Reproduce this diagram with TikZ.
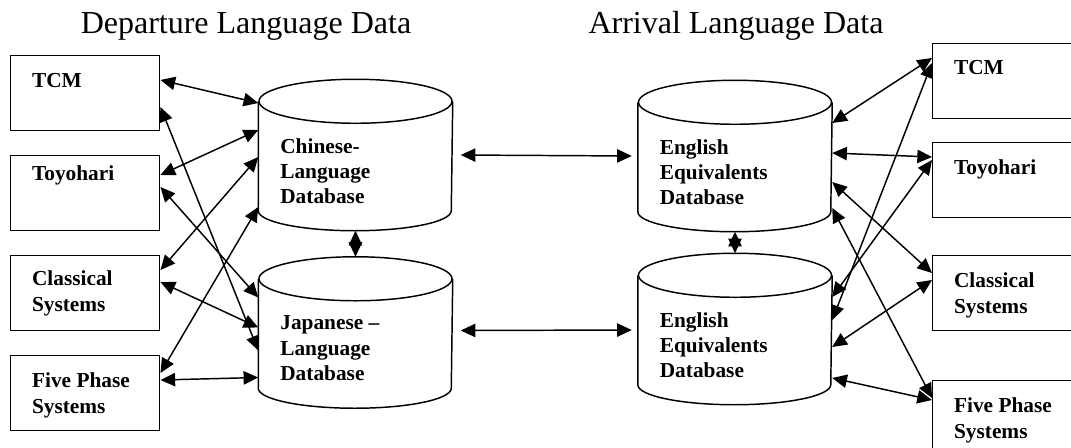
\documentclass[tikz,border=0pt]{standalone}
\usepackage{fontspec}
\setmainfont{Liberation Serif}
\usetikzlibrary{arrows.meta,calc}

\begin{document}
\begin{tikzpicture}[x=0.75pt,y=-0.75pt,line width=1.1pt,label distance=0pt,
	>={Triangle[length=11pt,width=10pt]},
	sysbox/.style={draw,rectangle,minimum width=111.75pt,minimum height=56.25pt,anchor=north west,inner sep=0pt},
	boxtext/.style={anchor=north west,inner sep=0pt,align=left,font=\fontsize{16}{19.5}\selectfont\bfseries,xshift=16pt,yshift=-12.5pt},
	db/.style={rectangle,minimum width=144.75pt,minimum height=112.5pt,inner sep=0pt},
	dbtext/.style={anchor=north west,inner sep=0pt,align=left,font=\fontsize{16}{19}\selectfont\bfseries,xshift=16pt,yshift=13pt},
	title/.style={anchor=base,font=\fontsize{24}{28}\selectfont}]
	\useasboundingbox (0,0) rectangle (1071,447);
	% titles
	\node[title] (dep) at (246,33) {Departure Language Data};
	\node[title] (arr) at (736,33) {Arrival Language Data};
	% departure side
	\node[sysbox,label={[boxtext,yshift=-1pt]north west:TCM}] (tcmL) at (10,55) {};
	\node[sysbox,label={[boxtext,yshift=5pt]north west:Toyohari}] (toyL) at (10,155) {};
	\node[sysbox,label={[boxtext,yshift=1pt]north west:Classical\\Systems}] (claL) at (10,255) {};
	\node[sysbox,label={[boxtext]north west:Five Phase\\Systems}] (fivL) at (10,355) {};
	\node[db,label={[dbtext]west:Chinese-\\Language\\Database}] (chn) at (355.5,155) {};
	\node[db,label={[dbtext]west:Japanese --\\Language\\Database}] (jap) at (355.5,332.5) {};
	% arrival side
	\node[db,label={[dbtext]west:English\\Equivalents\\Database}] (en1) at (735,156) {};
	\node[db,label={[dbtext]west:English\\Equivalents\\Database}] (en2) at (735,329) {};
	\node[sysbox,label={[boxtext]north west:TCM}] (tcmR) at (932,43) {};
	\node[sysbox,label={[boxtext]north west:Toyohari}] (toyR) at (932,142) {};
	\node[sysbox,label={[boxtext]north west:Classical\\Systems}] (claR) at (932,255) {};
	\node[sysbox,label={[boxtext]north west:Five Phase\\Systems}] (fivR) at (932,380) {};
	% database outlines
	\foreach \n in {chn,jap,en1,en2} {
		\draw ([yshift=-16.5pt]\n.north) ellipse[x radius=72.375pt,y radius=16.5pt];
		\draw ([yshift=-16.5pt]\n.north west) -- ([yshift=15pt]\n.south west)
			arc[start angle=180,end angle=360,x radius=72.375pt,y radius=15pt]
			-- ([yshift=-16.5pt]\n.north east);
	}
	% departure links
	\draw[<->] ($(tcmL.north east)+(0,25)$) -- ($(chn.west)+(0,-52)$);
	\draw[<->] ($(toyL.north east)+(0,20)$) -- ($(chn.west)+(0,-25)$);
	\draw[<->] ($(claL.north east)+(0,15)$) -- ($(chn.west)+(0,2)$);
	\draw[<->] ($(fivL.north east)+(0,18)$) -- ($(chn.west)+(0,52)$);
	\draw[<->] ($(tcmL.north east)+(0,52)$) -- ($(jap.west)+(0,18)$);
	\draw[<->] ($(toyL.north east)+(0,32)$) -- ($(jap.west)+(0,-35)$);
	\draw[<->] ($(claL.north east)+(0,27)$) -- ($(jap.west)+(0,-5)$);
	\draw[<->] ($(fivL.north east)+(0,25)$) -- ($(jap.west)+(0,45)$);
	\draw[<->] (chn.south) -- (jap.north);
	% across
	\draw[<->] ($(chn.east)+(8,0)$) -- ($(en1.west)+(-6,0)$);
	\draw[<->] ($(jap.east)+(8,-2)$) -- ($(en2.west)+(-6,1)$);
	% arrival links
	\draw[<->] (en1.south) -- (en2.north);
	\draw[<->] ($(en1.east)+(0,-33)$) -- ($(tcmR.north west)+(0,15)$);
	\draw[<->] ($(en1.east)+(0,-3)$) -- ($(toyR.north west)+(0,15)$);
	\draw[<->] ($(en1.east)+(0,26)$) -- ($(claR.north west)+(0,18)$);
	\draw[<->] ($(en1.east)+(0,52)$) -- ($(fivR.north west)+(0,18)$);
	\draw[<->] ($(en2.east)+(0,-9)$) -- ($(tcmR.north west)+(0,20)$);
	\draw[<->] ($(en2.east)+(0,-32)$) -- ($(toyR.north west)+(0,18)$);
	\draw[<->] ($(en2.east)+(0,18)$) -- ($(claR.north west)+(0,25)$);
	\draw[<->] ($(en2.east)+(0,49)$) -- ($(fivR.north west)+(0,20)$);
\end{tikzpicture}
\end{document}
